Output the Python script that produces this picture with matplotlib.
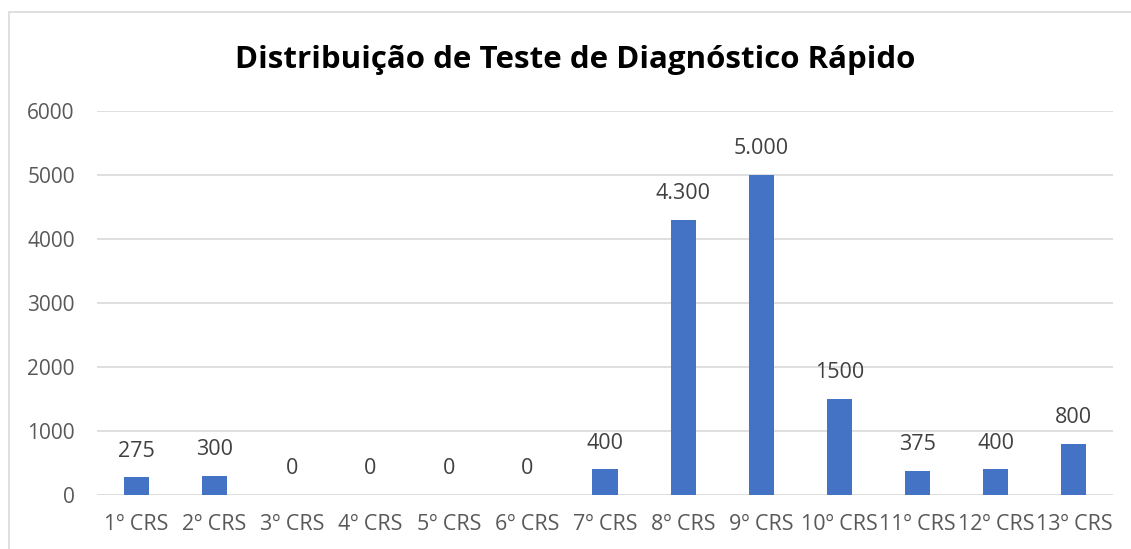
import matplotlib
matplotlib.use("Agg")
import matplotlib.pyplot as plt
from matplotlib.patches import Rectangle

categories = ["1º CRS", "2º CRS", "3º CRS", "4º CRS", "5º CRS", "6º CRS", "7º CRS",
              "8º CRS", "9º CRS", "10º CRS", "11º CRS", "12º CRS", "13º CRS"]
values = [275, 300, 0, 0, 0, 0, 400, 4300, 5000, 1500, 375, 400, 800]
labels = ["275", "300", "0", "0", "0", "0", "400", "4.300", "5.000", "1500", "375", "400", "800"]
yticks = [0, 1000, 2000, 3000, 4000, 5000, 6000]
title = "Distribuição de Teste de Diagnóstico Rápido"

plt.rcParams['font.family'] = ['Open Sans', 'DejaVu Sans']

fig = plt.figure(figsize=(11.31, 5.49), dpi=100)
fig.patch.set_facecolor("white")
fig.patches.append(Rectangle((9/1131, -0.1), 1.2, 1 - 12/549 + 0.1, transform=fig.transFigure,
                             fill=False, edgecolor="#d9d9d9", linewidth=1.2))

ax = fig.add_axes([97/1131, 1 - 495/549, (1113 - 97)/1131, (495 - 111)/549])
x = list(range(len(categories)))
ax.bar(x, values, width=0.32, color="#4472C4", zorder=3)
ax.set_xlim(-0.5, len(categories) - 0.5)
ax.set_ylim(0, 6000)
ax.set_yticks(yticks)
ax.set_yticklabels([str(t) for t in yticks])
ax.set_xticks(x)
ax.set_xticklabels(categories)
ax.tick_params(axis="y", length=0, labelsize=15, colors="#595959", pad=16)
ax.tick_params(axis="x", length=0, labelsize=15.5, colors="#595959", pad=14)
ax.grid(axis="y", color="#d9d9d9", linewidth=1.2, zorder=0)
for s in ax.spines.values():
    s.set_visible(False)

for xi, v, lab in zip(x, values, labels):
    ax.annotate(lab, (xi, v), xytext=(0, 19), textcoords="offset points",
                ha="center", va="center", fontsize=15.5, color="#404040")

fig.text(575/1131, 1 - 60/549, title, ha="center", va="center", fontsize=22.5,
         fontweight="bold", color="black")

fig.savefig("out.png", dpi=100)
